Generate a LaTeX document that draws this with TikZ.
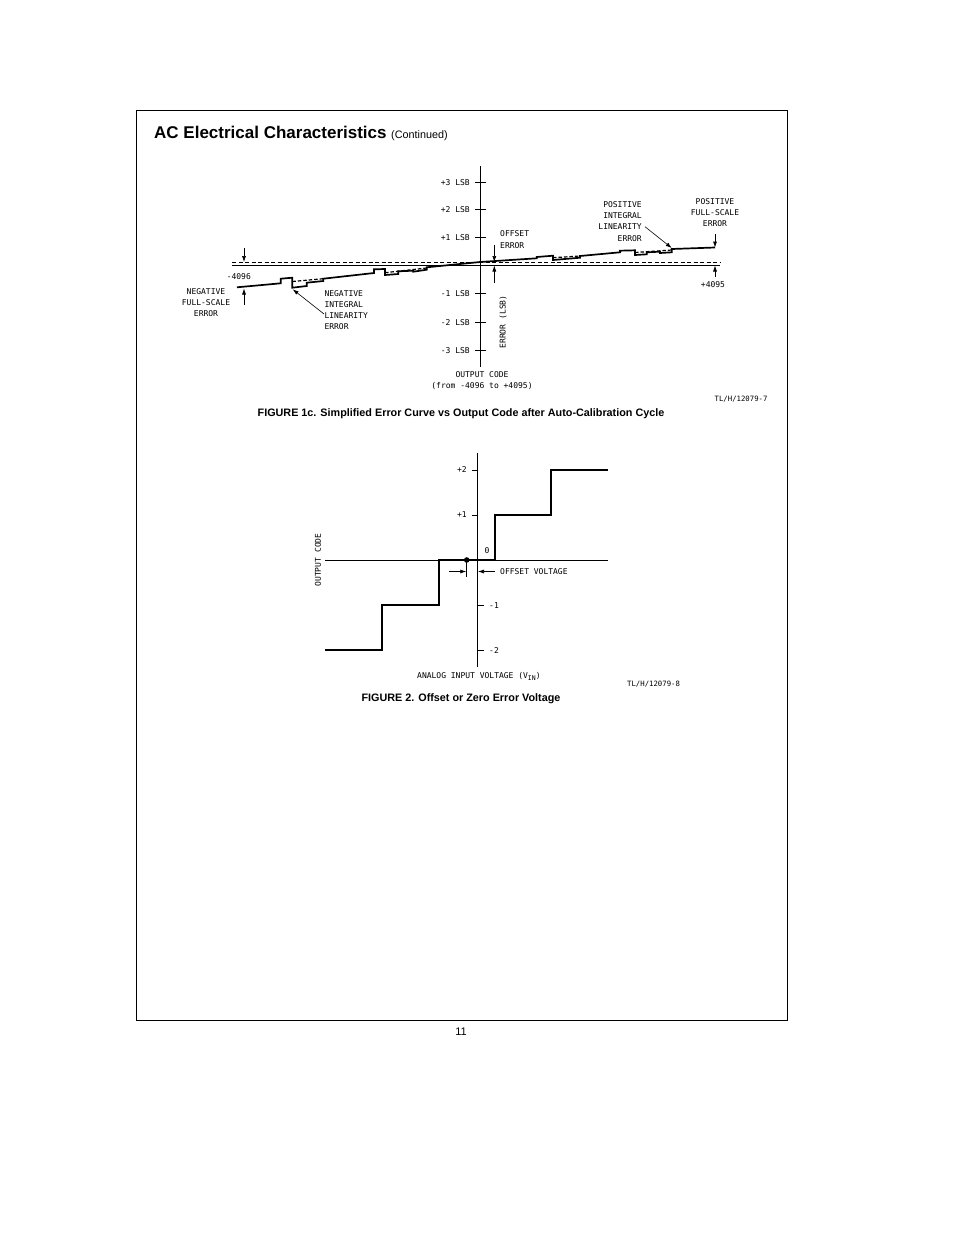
\documentclass[tikz,border=0pt]{standalone}
\usepackage{fontspec}
\setmainfont{Liberation Sans}
\newfontfamily\plotfont{DejaVu Sans Mono}
\usetikzlibrary{arrows.meta}
\tikzset{
    axisline/.style={line width=0.8pt},
    curveline/.style={line width=1.7pt,line join=miter},
    dashline/.style={line width=0.8pt,dash pattern=on 4pt off 2.5pt},
    errdash/.style={line width=1.2pt,dash pattern=on 3.5pt off 2pt},
    pointer/.style={line width=0.6pt,-{Latex[length=6pt,width=4pt]}},
    plotlabel/.style={inner sep=0pt,font=\plotfont\fontsize{8}{11.25}\selectfont},
    idlabel/.style={inner sep=0pt,font=\plotfont\fontsize{7.3}{9}\selectfont},
    caption/.style={inner sep=0pt,font=\bfseries\fontsize{10.8}{13}\selectfont}
}
\begin{document}
\begin{tikzpicture}[x=1pt,y=-1pt]
    \useasboundingbox (0,0) rectangle (954,1235);
    % border
    \fill[white] (0,0) rectangle (954,1235);
    \draw[line width=0.8pt] (136,110.5) rectangle (787.5,1020.5);
    % heading
    \node[inner sep=0pt,anchor=west,font=\bfseries\fontsize{17}{20}\selectfont] (heading) at (154,132) {AC Electrical Characteristics};
    \node[inner sep=0pt,anchor=west,font=\fontsize{10.8}{13}\selectfont] (continued) at (391,136) {(Continued)};
    \node[inner sep=0pt,font=\fontsize{11}{13}\selectfont] (pagenum) at (461,1031.5) {11};

    % error curve: axes
    \draw[axisline] (480,166) -- (480,367);
    \draw[axisline] (475,182) -- (486,182);
    \draw[axisline] (475,209) -- (486,209);
    \draw[axisline] (475,237) -- (486,237);
    \draw[axisline] (475,293) -- (486,293);
    \draw[axisline] (475,322) -- (486,322);
    \draw[axisline] (475,350) -- (486,350);
    \draw[axisline] (232,265) -- (720,265);
    \draw[dashline] (232,262.5) -- (720,262.5);
    % error curve: tick labels
    \node[plotlabel,anchor=east] (plusthree) at (470,182.5) {+3 LSB};
    \node[plotlabel,anchor=east] (plustwo) at (470,210) {+2 LSB};
    \node[plotlabel,anchor=east] (plusone) at (470,237.5) {+1 LSB};
    \node[plotlabel,anchor=east] (minusone) at (470,294) {-1 LSB};
    \node[plotlabel,anchor=east] (minustwo) at (470,322.5) {-2 LSB};
    \node[plotlabel,anchor=east] (minusthree) at (470,350.5) {-3 LSB};
    % error curve: the stepped line
    \draw[curveline] (237,287.3) -- (280.7,283.3) -- (280.7,278.7) -- (292.3,277.7) -- (292.3,287.7)
        -- (306.7,286) -- (306.7,282.7) -- (323.3,281) -- (323.3,278.7) -- (374,273) -- (374,269.3)
        -- (385,269) -- (385,275) -- (398.3,274) -- (398.3,271.3) -- (413.3,270.7) -- (413.3,271.7)
        -- (426.7,269.7) -- (426.7,267.3) -- (480,262) -- (536.7,258.3) -- (536.7,257) -- (553,255.7)
        -- (553,260) -- (580,257.7) -- (580,256) -- (620,252.3) -- (620,250.7) -- (635,250.3)
        -- (635,255) -- (646.7,254.3) -- (646.7,252.3) -- (660,251.7) -- (660,253) -- (671.7,252.3)
        -- (671.7,249) -- (715,247.5);
    \draw[errdash] (292.3,281.5) -- (323.3,278.7);
    \draw[errdash] (385,272.7) -- (426.7,268);
    \draw[errdash] (553,257.7) -- (580,256);
    \draw[errdash] (635,252.5) -- (671.7,250);
    % error curve: free ends of the pointers
    \coordinate (leftupper) at (244,248);
    \coordinate (leftuppertip) at (244,262);
    \coordinate (leftlower) at (244,305);
    \coordinate (leftlowertip) at (244,288.5);
    \coordinate (offsetupper) at (494.3,245);
    \coordinate (offsetuppertip) at (494.3,262);
    \coordinate (offsetlower) at (494.3,282.7);
    \coordinate (offsetlowertip) at (494.3,265.5);
    \coordinate (rightupper) at (715,234);
    \coordinate (rightuppertip) at (715,247.5);
    \coordinate (rightlower) at (715,276.7);
    \coordinate (rightlowertip) at (715,265.5);
    \coordinate (negtail) at (324,314);
    \coordinate (negtip) at (292.7,289.3);
    \coordinate (postail) at (645,226.7);
    \coordinate (postip) at (671.7,248);
    \draw[pointer] (leftupper) -- (leftuppertip);
    \draw[pointer] (leftlower) -- (leftlowertip);
    \draw[pointer] (offsetupper) -- (offsetuppertip);
    \draw[pointer] (offsetlower) -- (offsetlowertip);
    \draw[pointer] (rightupper) -- (rightuppertip);
    \draw[pointer] (rightlower) -- (rightlowertip);
    \draw[pointer] (negtail) -- (negtip);
    \draw[pointer] (postail) -- (postip);
    % error curve: labels
    \node[plotlabel] (lowcode) at (238.8,277) {-4096};
    \node[plotlabel] (highcode) at (713,285) {+4095};
    \node[plotlabel,align=center] (negfull) at (206,302.5) {NEGATIVE\\FULL-SCALE\\ERROR};
    \node[plotlabel,align=left,anchor=west] (negint) at (324.3,310) {NEGATIVE\\INTEGRAL\\LINEARITY\\ERROR};
    \node[plotlabel,align=left,anchor=west] (offseterr) at (500,239.5) {OFFSET\\ERROR};
    \node[plotlabel,align=right,anchor=east] (posint) at (642,221.3) {POSITIVE\\INTEGRAL\\LINEARITY\\ERROR};
    \node[plotlabel,align=center] (posfull) at (715,212.5) {POSITIVE\\FULL-SCALE\\ERROR};
    \node[plotlabel,rotate=90] (errorlsb) at (503,322) {ERROR (LSB)};
    \node[plotlabel,align=center] (outcode) at (482,380.5) {OUTPUT CODE\\(from -4096 to +4095)};
    \node[idlabel,anchor=west] (idone) at (714.5,399) {TL/H/12079-7};
    \node[caption] (figone) at (461,414) {FIGURE 1c. Simplified Error Curve vs Output Code after Auto-Calibration Cycle};

    % offset voltage: axes
    \draw[axisline] (477.7,453) -- (477.7,667);
    \draw[axisline] (325,560) -- (607.5,560);
    \draw[axisline] (472,470) -- (477.7,470);
    \draw[axisline] (472,515) -- (477.7,515);
    \draw[axisline] (477.7,605) -- (484,605);
    \draw[axisline] (477.7,650) -- (484,650);
    % offset voltage: transfer curve
    \draw[curveline] (325,650) -- (382,650) -- (382,605) -- (438.7,605) -- (438.7,560) -- (495,560)
        -- (495,515) -- (551,515) -- (551,470) -- (607.5,470);
    \fill (466.7,560) circle (2.8);
    \draw[axisline] (466.7,560) -- (466.7,577);
    % offset voltage: pointers
    \coordinate (voltleft) at (449.3,571.5);
    \coordinate (voltlefttip) at (466.3,571.5);
    \coordinate (voltright) at (495,571.5);
    \coordinate (voltrighttip) at (478,571.5);
    \draw[pointer] (voltleft) -- (voltlefttip);
    \draw[pointer] (voltright) -- (voltrighttip);
    % offset voltage: labels
    \node[plotlabel,anchor=east] (codeplustwo) at (467,470) {+2};
    \node[plotlabel,anchor=east] (codeplusone) at (467,515) {+1};
    \node[plotlabel] (codezero) at (487,551) {0};
    \node[plotlabel,anchor=west] (codeminusone) at (489,605.5) {-1};
    \node[plotlabel,anchor=west] (codeminustwo) at (489,650.5) {-2};
    \node[plotlabel,anchor=west] (offsetvolt) at (500,571.5) {OFFSET VOLTAGE};
    \node[plotlabel,rotate=90] (outputcode) at (318,560) {OUTPUT CODE};
    \node[plotlabel,anchor=west] (analogin) at (417,676) {ANALOG INPUT VOLTAGE (V\raisebox{-2pt}{\fontsize{6.5}{8}\selectfont IN})};
    \node[idlabel,anchor=west] (idtwo) at (627,684) {TL/H/12079-8};
    \node[caption] (figtwo) at (461,699) {FIGURE 2. Offset or Zero Error Voltage};
\end{tikzpicture}
\end{document}
